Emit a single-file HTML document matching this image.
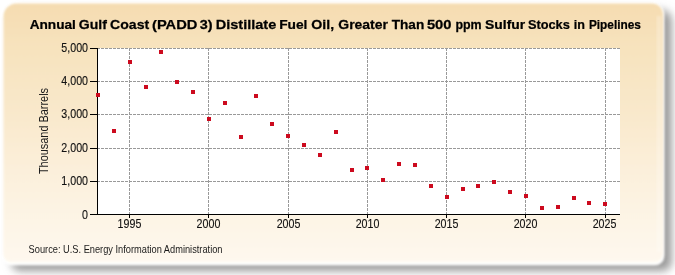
<!DOCTYPE html>
<html><head><meta charset="utf-8"><style>
html,body{margin:0;padding:0;background:#fff;width:675px;height:275px;overflow:hidden}
svg{display:block;will-change:transform}
text{font-family:"Liberation Sans",sans-serif;fill:#111;stroke:#111;stroke-width:0.12px}
.ax{font-size:12px}
.ti{font-size:13.5px;font-weight:bold;fill:#000;stroke:#000;stroke-width:0.25px}
.src{font-size:10px;stroke-width:0;fill:#1a1a1a}
.yt{stroke-width:0;fill:#1a1a1a}
</style></head><body>
<svg width="675" height="275" viewBox="0 0 675 275">
<defs>
<linearGradient id="bg" x1="0" y1="0" x2="0" y2="1">
<stop offset="0" stop-color="#f5dcb1"/>
<stop offset="0.15" stop-color="#f7e2bc"/>
<stop offset="0.45" stop-color="#f9e9cd"/>
<stop offset="0.7" stop-color="#fcf1de"/>
<stop offset="1" stop-color="#fef8ee"/>
</linearGradient>
<filter id="sh" x="-10%" y="-10%" width="120%" height="130%"><feGaussianBlur stdDeviation="4"/></filter>
<filter id="soft" x="-5%" y="-5%" width="110%" height="110%"><feGaussianBlur stdDeviation="0.9"/></filter>
</defs>
<path d="M21.5,10 H661.7 A10,10 0 0 1 671.7,20 V261.9 A9,9 0 0 1 662.7,270.9 H19.5 A8,8 0 0 1 11.5,262.9 V20 A10,10 0 0 1 21.5,10 Z" fill="#9a9a9a" filter="url(#sh)"/>
<path d="M16.5,3.5 H652 A11,11 0 0 1 663,14.5 V256 A8,8 0 0 1 655,264 H10.5 A7,7 0 0 1 3.5,257 V16.5 A13,13 0 0 1 16.5,3.5 Z" fill="#fffdf5" stroke="#fff" stroke-opacity="0.9" stroke-width="3" filter="url(#soft)"/>
<path d="M16.5,3.5 H652 A11,11 0 0 1 663,14.5 V253 A8,8 0 0 1 655,261 H10.5 A7,7 0 0 1 3.5,254 V16.5 A13,13 0 0 1 16.5,3.5 Z" fill="url(#bg)" filter="url(#soft)"/>
<rect x="656.5" y="16" width="5" height="236" fill="#fff" fill-opacity="0.22" filter="url(#soft)"/>
<rect x="97" y="48" width="523" height="166" fill="#fff"/><line x1="97" y1="48.5" x2="620" y2="48.5" stroke="#999" stroke-width="1" stroke-dasharray="3,1"/><line x1="97" y1="81.5" x2="620" y2="81.5" stroke="#999" stroke-width="1" stroke-dasharray="3,1"/><line x1="97" y1="114.5" x2="620" y2="114.5" stroke="#999" stroke-width="1" stroke-dasharray="3,1"/><line x1="97" y1="148.5" x2="620" y2="148.5" stroke="#999" stroke-width="1" stroke-dasharray="3,1"/><line x1="97" y1="181.5" x2="620" y2="181.5" stroke="#999" stroke-width="1" stroke-dasharray="3,1"/><line x1="129.5" y1="48" x2="129.5" y2="214" stroke="#999" stroke-width="1" stroke-dasharray="3,1"/><line x1="208.5" y1="48" x2="208.5" y2="214" stroke="#999" stroke-width="1" stroke-dasharray="3,1"/><line x1="288.5" y1="48" x2="288.5" y2="214" stroke="#999" stroke-width="1" stroke-dasharray="3,1"/><line x1="367.5" y1="48" x2="367.5" y2="214" stroke="#999" stroke-width="1" stroke-dasharray="3,1"/><line x1="446.5" y1="48" x2="446.5" y2="214" stroke="#999" stroke-width="1" stroke-dasharray="3,1"/><line x1="525.5" y1="48" x2="525.5" y2="214" stroke="#999" stroke-width="1" stroke-dasharray="3,1"/><line x1="605.5" y1="48" x2="605.5" y2="214" stroke="#999" stroke-width="1" stroke-dasharray="3,1"/><line x1="97.5" y1="48" x2="97.5" y2="215" stroke="#000" stroke-width="1"/><line x1="97" y1="214.5" x2="620" y2="214.5" stroke="#000" stroke-width="1"/><line x1="90" y1="48.5" x2="97" y2="48.5" stroke="#000" stroke-width="1"/><line x1="90" y1="81.5" x2="97" y2="81.5" stroke="#000" stroke-width="1"/><line x1="90" y1="114.5" x2="97" y2="114.5" stroke="#000" stroke-width="1"/><line x1="90" y1="148.5" x2="97" y2="148.5" stroke="#000" stroke-width="1"/><line x1="90" y1="181.5" x2="97" y2="181.5" stroke="#000" stroke-width="1"/><line x1="90" y1="214.5" x2="97" y2="214.5" stroke="#000" stroke-width="1"/><line x1="129.5" y1="214" x2="129.5" y2="218" stroke="#000" stroke-width="1"/><line x1="208.5" y1="214" x2="208.5" y2="218" stroke="#000" stroke-width="1"/><line x1="288.5" y1="214" x2="288.5" y2="218" stroke="#000" stroke-width="1"/><line x1="367.5" y1="214" x2="367.5" y2="218" stroke="#000" stroke-width="1"/><line x1="446.5" y1="214" x2="446.5" y2="218" stroke="#000" stroke-width="1"/><line x1="525.5" y1="214" x2="525.5" y2="218" stroke="#000" stroke-width="1"/><line x1="605.5" y1="214" x2="605.5" y2="218" stroke="#000" stroke-width="1"/><rect x="96" y="93" width="4" height="4" fill="#cc0a1e"/><rect x="112" y="129" width="4" height="4" fill="#cc0a1e"/><rect x="128" y="60" width="4" height="4" fill="#cc0a1e"/><rect x="144" y="85" width="4" height="4" fill="#cc0a1e"/><rect x="159" y="50" width="4" height="4" fill="#cc0a1e"/><rect x="175" y="80" width="4" height="4" fill="#cc0a1e"/><rect x="191" y="90" width="4" height="4" fill="#cc0a1e"/><rect x="207" y="117" width="4" height="4" fill="#cc0a1e"/><rect x="223" y="101" width="4" height="4" fill="#cc0a1e"/><rect x="239" y="135" width="4" height="4" fill="#cc0a1e"/><rect x="254" y="94" width="4" height="4" fill="#cc0a1e"/><rect x="270" y="122" width="4" height="4" fill="#cc0a1e"/><rect x="286" y="134" width="4" height="4" fill="#cc0a1e"/><rect x="302" y="143" width="4" height="4" fill="#cc0a1e"/><rect x="318" y="153" width="4" height="4" fill="#cc0a1e"/><rect x="334" y="130" width="4" height="4" fill="#cc0a1e"/><rect x="350" y="168" width="4" height="4" fill="#cc0a1e"/><rect x="365" y="166" width="4" height="4" fill="#cc0a1e"/><rect x="381" y="178" width="4" height="4" fill="#cc0a1e"/><rect x="397" y="162" width="4" height="4" fill="#cc0a1e"/><rect x="413" y="163" width="4" height="4" fill="#cc0a1e"/><rect x="429" y="184" width="4" height="4" fill="#cc0a1e"/><rect x="445" y="195" width="4" height="4" fill="#cc0a1e"/><rect x="461" y="187" width="4" height="4" fill="#cc0a1e"/><rect x="476" y="184" width="4" height="4" fill="#cc0a1e"/><rect x="492" y="180" width="4" height="4" fill="#cc0a1e"/><rect x="508" y="190" width="4" height="4" fill="#cc0a1e"/><rect x="524" y="194" width="4" height="4" fill="#cc0a1e"/><rect x="540" y="206" width="4" height="4" fill="#cc0a1e"/><rect x="556" y="205" width="4" height="4" fill="#cc0a1e"/><rect x="572" y="196" width="4" height="4" fill="#cc0a1e"/><rect x="587" y="201" width="4" height="4" fill="#cc0a1e"/><rect x="603" y="202" width="4" height="4" fill="#cc0a1e"/>
<text x="0" y="29" class="ti" transform="translate(29.69 0) scale(1.011 1)">Annual</text><text x="0" y="29" class="ti" transform="translate(78.86 0) scale(1.042 1)">Gulf</text><text x="0" y="29" class="ti" transform="translate(110.06 0) scale(1.044 1)">Coast</text><text x="0" y="29" class="ti" transform="translate(152.01 0) scale(1.090 1)">(PADD</text><text x="0" y="29" class="ti" transform="translate(199.73 0) scale(1.070 1)">3)</text><text x="0" y="29" class="ti" transform="translate(215.72 0) scale(1.078 1)">Distillate</text><text x="0" y="29" class="ti" transform="translate(279.18 0) scale(1.019 1)">Fuel</text><text x="0" y="29" class="ti" transform="translate(311.25 0) scale(1.050 1)">Oil,</text><text x="0" y="29" class="ti" transform="translate(338.26 0) scale(1.036 1)">Greater</text><text x="0" y="29" class="ti" transform="translate(391.70 0) scale(1.010 1)">Than</text><text x="0" y="29" class="ti" transform="translate(426.90 0) scale(1.095 1)">500</text><text x="0" y="29" class="ti" transform="translate(455.38 0) scale(0.922 1)">ppm</text><text x="0" y="29" class="ti" transform="translate(485.07 0) scale(1.029 1)">Sulfur</text><text x="0" y="29" class="ti" transform="translate(527.95 0) scale(0.947 1)">Stocks</text><text x="0" y="29" class="ti" transform="translate(573.87 0) scale(0.930 1)">in</text><text x="0" y="29" class="ti" transform="translate(588.92 0) scale(0.878 1)">Pipelines</text>
<text x="88" y="52.5" text-anchor="end" class="ax" transform="translate(88 0) scale(0.89 1) translate(-88 0)">5,000</text><text x="88" y="85.5" text-anchor="end" class="ax" transform="translate(88 0) scale(0.89 1) translate(-88 0)">4,000</text><text x="88" y="118.5" text-anchor="end" class="ax" transform="translate(88 0) scale(0.89 1) translate(-88 0)">3,000</text><text x="88" y="152.5" text-anchor="end" class="ax" transform="translate(88 0) scale(0.89 1) translate(-88 0)">2,000</text><text x="88" y="185.5" text-anchor="end" class="ax" transform="translate(88 0) scale(0.89 1) translate(-88 0)">1,000</text><text x="88" y="219.5" text-anchor="end" class="ax" transform="translate(88 0) scale(0.89 1) translate(-88 0)">0</text><text x="129.5" y="228" text-anchor="middle" class="ax" transform="translate(129.5 0) scale(0.89 1) translate(-129.5 0)">1995</text><text x="208.5" y="228" text-anchor="middle" class="ax" transform="translate(208.5 0) scale(0.89 1) translate(-208.5 0)">2000</text><text x="288.5" y="228" text-anchor="middle" class="ax" transform="translate(288.5 0) scale(0.89 1) translate(-288.5 0)">2005</text><text x="367.5" y="228" text-anchor="middle" class="ax" transform="translate(367.5 0) scale(0.89 1) translate(-367.5 0)">2010</text><text x="446.5" y="228" text-anchor="middle" class="ax" transform="translate(446.5 0) scale(0.89 1) translate(-446.5 0)">2015</text><text x="525.5" y="228" text-anchor="middle" class="ax" transform="translate(525.5 0) scale(0.89 1) translate(-525.5 0)">2020</text><text x="604.5" y="228" text-anchor="middle" class="ax" transform="translate(604.5 0) scale(0.89 1) translate(-604.5 0)">2025</text>
<text x="0" y="0" class="ax yt" transform="translate(47.5 131) rotate(-90) scale(0.91 1)" text-anchor="middle">Thousand Barrels</text>
<text x="0" y="253" class="src" transform="translate(28.6 0) scale(0.927 1)">Source: U.S. Energy Information Administration</text>
</svg>
</body></html>
